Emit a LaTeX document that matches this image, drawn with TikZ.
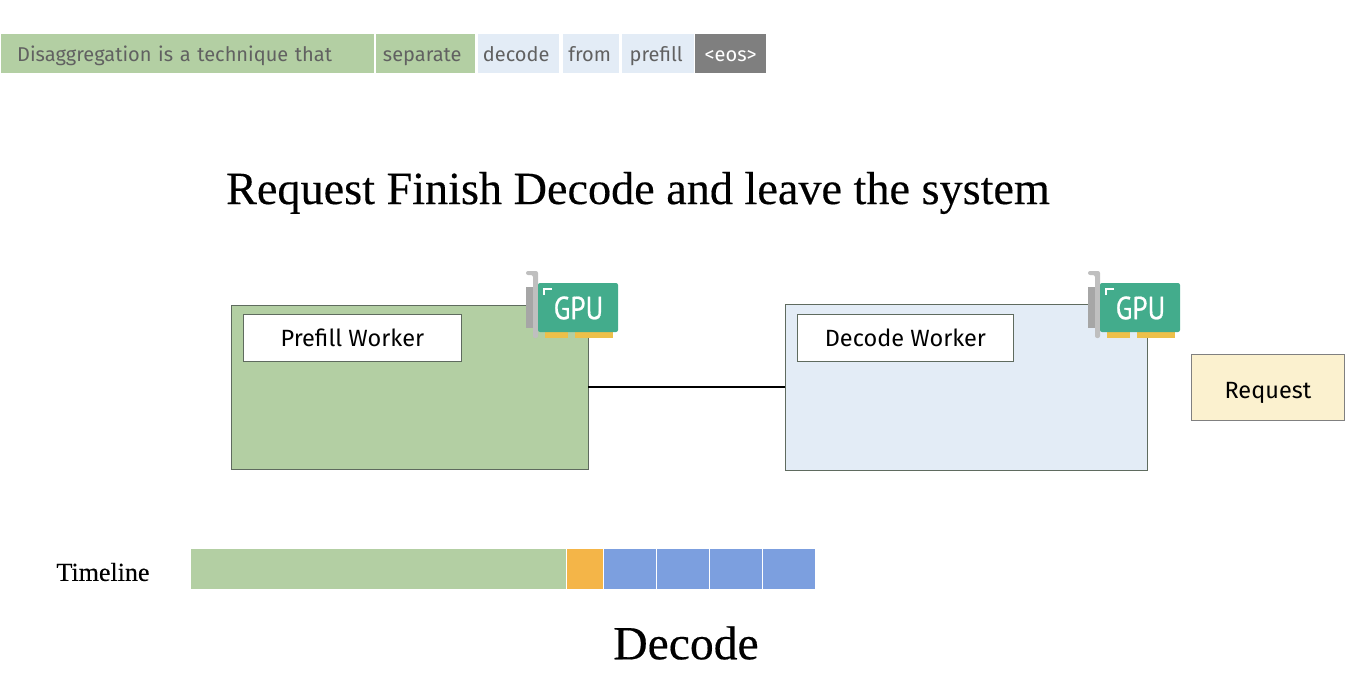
\documentclass[tikz,border=0pt]{standalone}
\usepackage{fontspec}
\setmainfont{Fira Sans}
\newfontfamily\titlefont[FakeBold=0.3]{Liberation Serif}
\newfontfamily\gpufont[FakeBold=0.6]{PT Sans}
\definecolor{prefillgreen}{HTML}{B3CFA3}
\definecolor{decodeblue}{HTML}{E3ECF6}
\definecolor{requestyellow}{HTML}{FBF1CF}
\definecolor{stepblue}{HTML}{7C9FDF}
\definecolor{firstorange}{HTML}{F4B548}
\definecolor{eosgray}{HTML}{7F7F7F}
\definecolor{gpugreen}{HTML}{43AC8C}
\definecolor{gpugold}{HTML}{EDC04A}
\definecolor{boxline}{HTML}{5F6B5F}
\tikzset{
  token/.style = {anchor=north west, inner sep=0pt, minimum height=39pt, text height=15pt, text depth=0pt, text=black!62, font=\fontsize{20}{20}\selectfont},
  bar/.style = {anchor=north west, inner sep=0pt, minimum height=40pt},
  worker/.style = {draw=boxline, line width=0.9pt, anchor=north west, inner sep=0pt},
  label/.style = {draw=boxline, fill=white, line width=0.8pt, anchor=north west, inner sep=0pt, minimum height=47pt, text height=17pt, text depth=0pt, font=\fontsize{23.5}{23.5}\selectfont},
  heading/.style = {inner sep=0pt, text=black, font=\titlefont},
  pics/gpu/.style = {code = {
    \fill[black!25, rounded corners=2pt] (-7,-13) -- (5,-13) -- (5,54) -- (0,54) -- (0,-9) -- (-7,-9) -- cycle;
    \fill[black!35] (-7,3) rectangle (0,44);
    \fill[gpugold] (12,48) rectangle (35,54);
    \fill[gpugold] (42,48) rectangle (80,54);
    \fill[gpugreen, rounded corners=2pt] (5,-1) rectangle (85,48);
    \draw[white, line width=1.6pt] (11,11) -- (11,5) -- (19,5);
    \node[inner sep=0pt, text=white, font=\gpufont\fontsize{32}{32}\selectfont, xscale=0.85] at (45.5,24) {GPU};
  }}
}
\begin{document}
\begin{tikzpicture}[x=1pt, y=-1pt]
\useasboundingbox (0,0) rectangle (1366,688);
% tokens
\node[token, fill=prefillgreen, text width=373pt, align=left] (tok1) at (1,34) {\hspace*{16pt}Disaggregation is a technique that};
\node[token, fill=prefillgreen, minimum width=99pt] (tok2) at (376,34) {separate\kern7pt};
\node[token, fill=decodeblue, minimum width=81pt] (tok3) at (478,34) {decode\kern5pt};
\node[token, fill=decodeblue, minimum width=56pt] (tok4) at (563,34) {from\kern3pt};
\node[token, fill=decodeblue, minimum width=72pt] (tok5) at (622,34) {prefill\kern4pt};
\node[token, fill=eosgray, text=white, minimum width=71pt] (tok6) at (695,34) {<eos>};
% title
\node[heading, font=\titlefont\fontsize{46.2}{46.2}\selectfont] (title) at (638,193) {Request Finish Decode and leave the system};
% workers
\node[worker, fill=prefillgreen, minimum width=357pt, minimum height=164pt] (prefill) at (230.5,304.5) {};
\node[worker, fill=decodeblue, minimum width=362pt, minimum height=166pt] (decode) at (784.5,303.5) {};
\node[label, minimum width=218pt] (prefilllabel) at (243,314) {Prefill Worker};
\node[label, minimum width=216pt] (decodelabel) at (797,314) {Decode Worker};
\node[draw=black!50, fill=requestyellow, line width=0.8pt, anchor=north west, inner sep=0pt, minimum width=153pt, minimum height=66pt, text height=22pt, text depth=0pt, font=\fontsize{23.5}{23.5}\selectfont] (request) at (1191,354) {Request};
\draw[line width=2.4pt] (prefill) -- (decode);
\pic at (533,284) {gpu};
\pic at (1095,284) {gpu};
% timeline
\node[heading, font=\titlefont\fontsize{26}{26}\selectfont] (timeline) at (103,572) {Timeline};
\node[bar, fill=prefillgreen, minimum width=375pt] (bar1) at (191,549) {};
\node[bar, fill=firstorange, minimum width=36pt] (bar2) at (567,549) {};
\foreach \x [count=\i from 3] in {604,657,710,763}
  \node[bar, fill=stepblue, minimum width=52pt] (bar\i) at (\x,549) {};
\node[heading, font=\titlefont\fontsize{47.6}{47.6}\selectfont] (phase) at (686,643) {Decode};
\end{tikzpicture}
\end{document}
